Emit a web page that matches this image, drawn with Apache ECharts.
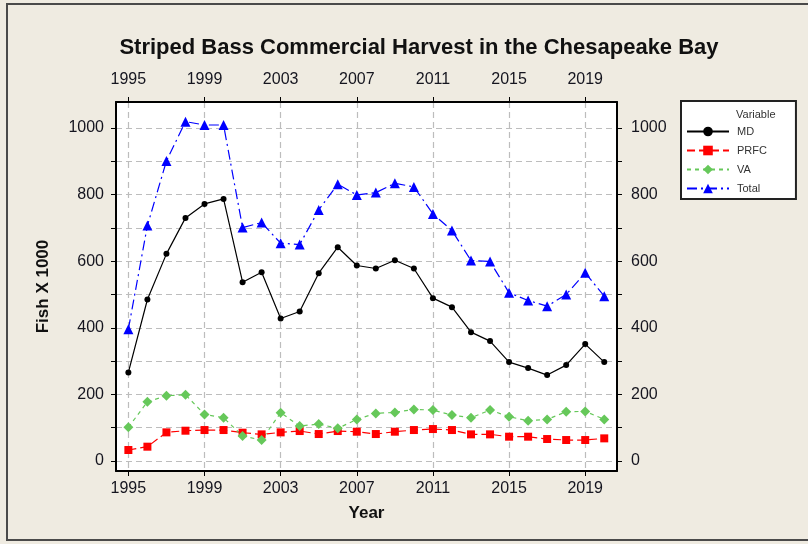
<!DOCTYPE html>
<html>
<head>
<meta charset="utf-8">
<script src="https://cdn.jsdelivr.net/npm/echarts@6/dist/echarts.min.js"></script>
<style>
html,body{margin:0;padding:0;background:#EFEBE1;}
#chart{width:808px;height:544px;}
</style>
</head>
<body>
<div id="chart"></div>
<script>
const years = [1995,1996,1997,1998,1999,2000,2001,2002,2003,2004,2005,2006,2007,2008,2009,2010,2011,2012,2013,2014,2015,2016,2017,2018,2019,2020];
const mdValues = [266,485,622,730,772,787,537,567,428,449,564,642,587,578,603,578,489,462,387,360,297,279,258,288,351,297];
const prfcValues = [33,43,86,91,93,93,85,80,86,90,81,90,88,81,88,93,96,93,80,80,73,73,66,63,63,68];
const vaValues = [101,178,196,199,140,130,75,63,145,105,111,98,125,143,146,155,153,138,130,153,133,121,125,148,149,125];
const totalValues = [396,707,901,1019,1009,1009,701,716,654,650,754,831,799,806,834,823,742,692,602,599,505,482,465,500,565,495];
const xTickYears = [1995,1999,2003,2007,2011,2015,2019];
const yTickValues = [0,100,200,300,400,500,600,700,800,900,1000];
const yLabelValues = [0,200,400,600,800,1000];

const pair = (vals) => years.map((y, i) => [y, vals[i]]);
const FONT = 'Liberation Sans';
const labelColor = '#15151f';

const chart = echarts.init(document.getElementById('chart'), null, {renderer: 'canvas'});

const xBase = {
  type: 'value', min: 1994.35, max: 2020.67,
  axisLine: {show: true, onZero: false, lineStyle: {color: '#000', width: 2}},
  axisTick: {show: true, inside: false, length: 5, customValues: xTickYears, lineStyle: {color: '#000', width: 1}},
  axisLabel: {customValues: xTickYears, fontFamily: FONT, fontSize: 16, color: labelColor, formatter: v => String(v)},
};
const yBase = {
  type: 'value', min: -30, max: 1078,
  axisLine: {show: true, onZero: false, lineStyle: {color: '#000', width: 2}},
  axisTick: {show: true, inside: false, length: 5, customValues: yTickValues, lineStyle: {color: '#000', width: 1}},
  axisLabel: {customValues: yLabelValues, fontFamily: FONT, fontSize: 16, color: labelColor, formatter: v => String(v)},
};
const gridLine = {show: true, lineStyle: {color: '#bdbdbd', width: 1.2, type: [6, 4]}};

chart.setOption({
  animation: false,
  backgroundColor: '#EFEBE1',
  title: {
    text: 'Striped Bass Commercial Harvest in the Chesapeake Bay',
    left: 414, top: 32, textAlign: 'center',
    textStyle: {fontFamily: FONT, fontWeight: 'bold', fontSize: 22, color: '#111'}
  },
  graphic: [
    {type: 'rect', z: 0, shape: {x: 7, y: 4, width: 830, height: 536}, style: {fill: 'none', stroke: '#4a4a4a', lineWidth: 2}, silent: true},
    {type: 'text', z: 100, zlevel: 1, x: 736, y: 109, style: {text: 'Variable', fontFamily: FONT, fontSize: 11, fill: '#333'}}
  ],
  grid: {left: 116, top: 102, right: 191, bottom: 73, show: true, backgroundColor: '#fff', borderWidth: 0},
  xAxis: [
    Object.assign({}, xBase, {position: 'bottom', splitLine: gridLine,
      name: 'Year', nameLocation: 'middle', nameGap: 34,
      nameTextStyle: {fontFamily: FONT, fontWeight: 'bold', fontSize: 17, color: '#111'},
      axisLabel: Object.assign({}, xBase.axisLabel, {margin: 10})}),
    Object.assign({}, xBase, {position: 'top', splitLine: {show: false},
      axisLabel: Object.assign({}, xBase.axisLabel, {margin: 14})})
  ],
  yAxis: [
    Object.assign({}, yBase, {position: 'left', splitLine: gridLine,
      name: 'Fish X 1000', nameLocation: 'middle', nameGap: 64, nameRotate: 90,
      nameTextStyle: {fontFamily: FONT, fontWeight: 'bold', fontSize: 17, color: '#111'},
      axisLabel: Object.assign({}, yBase.axisLabel, {margin: 12})}),
    Object.assign({}, yBase, {position: 'right', splitLine: {show: false},
      axisLabel: Object.assign({}, yBase.axisLabel, {margin: 14})})
  ],
  legend: {
    data: ['MD', 'PRFC', 'VA', 'Total'],
    orient: 'vertical', left: 681, top: 101,
    backgroundColor: '#fff', borderColor: '#222', borderWidth: 2, borderRadius: 0,
    padding: [25, 29, 5, 5],
    itemWidth: 42, itemHeight: 12, itemGap: 8,
    textStyle: {fontFamily: FONT, fontSize: 11, color: '#333', padding: [0, 0, 0, 3]}
  },
  series: [
    {name: 'MD', type: 'line', data: pair(mdValues), symbol: 'circle', symbolSize: 6,
      itemStyle: {color: '#000'}, lineStyle: {color: '#000', width: 1.2, type: 'solid'}},
    {name: 'PRFC', type: 'line', data: pair(prfcValues), symbol: 'rect', symbolSize: 8,
      itemStyle: {color: '#ff0000'}, lineStyle: {color: '#ff0000', width: 1.2, type: [8, 4]}},
    {name: 'VA', type: 'line', data: pair(vaValues), symbol: 'diamond', symbolSize: 10,
      itemStyle: {color: '#66c85a'}, lineStyle: {color: '#66c85a', width: 1.2, type: [4, 4]}},
    {name: 'Total', type: 'line', data: pair(totalValues), symbol: 'triangle', symbolSize: 10,
      itemStyle: {color: '#0000ff'}, lineStyle: {color: '#0000ff', width: 1.2, type: [10, 4, 2, 4]}}
  ]
});
</script>
</body>
</html>
